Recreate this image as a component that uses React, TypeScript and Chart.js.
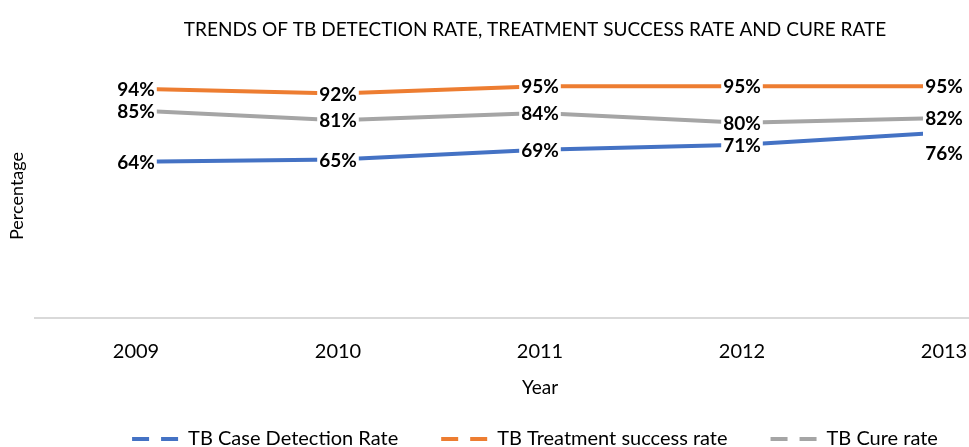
import React, { useEffect, useRef } from 'react';
import { Chart, registerables } from 'chart.js';

Chart.register(...registerables);

const years = ['2009', '2010', '2011', '2012', '2013'];
const detectionRate = [64, 65, 69, 71, 76];
const successRate = [94, 92, 95, 95, 95];
const cureRate = [85, 81, 84, 80, 82];
const seriesNames = ['TB Case Detection Rate', 'TB Treatment success rate', 'TB Cure rate'];
const seriesColors = ['#4472C4', '#ED7D31', '#A5A5A5'];
const titleText = 'TRENDS OF TB DETECTION RATE, TREATMENT SUCCESS RATE AND CURE RATE';
const xTitle = 'Year';
const yTitle = 'Percentage';

const FONT = 'Lato, "Open Sans", sans-serif';
const W = 1060;
const H = 447;

const labelPlugin = {
  id: 'pctLabels',
  afterDatasetsDraw(chart: any) {
    const ctx = chart.ctx;
    ctx.save();
    ctx.font = `bold 19px ${FONT}`;
    ctx.textAlign = 'center';
    ctx.textBaseline = 'middle';
    const n = chart.data.labels.length;
    const h = 20;
    for (let i = 0; i < n; i++) {
      const items: any[] = [];
      chart.data.datasets.forEach((ds: any, di: number) => {
        const el = chart.getDatasetMeta(di).data[i];
        items.push({ x: el.x, y: el.y, text: ds.data[i] + '%' });
      });
      items.sort((a, b) => a.y - b.y);
      const placed: number[] = [];
      items.forEach((it) => {
        const w = ctx.measureText(it.text).width + 4;
        let cy = it.y;
        if (placed.some((p) => Math.abs(p - cy) < 18)) cy = it.y + h;
        placed.push(cy);
        ctx.fillStyle = '#ffffff';
        ctx.fillRect(it.x - w / 2, cy - h / 2, w, h);
        ctx.fillStyle = '#000000';
        ctx.fillText(it.text, it.x, cy + 1);
      });
    }
    ctx.restore();
  },
};

export default function App() {
  const ref = useRef<HTMLCanvasElement>(null);
  useEffect(() => {
    document.body.style.overflow = 'hidden';
    document.documentElement.style.overflow = 'hidden';
    const series = [detectionRate, successRate, cureRate];
    const chart = new Chart(ref.current as HTMLCanvasElement, {
      type: 'line',
      data: {
        labels: years,
        datasets: series.map((d, i) => ({
          label: seriesNames[i],
          data: d,
          borderColor: seriesColors[i],
          backgroundColor: seriesColors[i],
          borderWidth: 4,
          pointRadius: 0,
          pointHoverRadius: 0,
          tension: 0,
          fill: false,
          clip: { left: false, top: false, bottom: false, right: -122 },
        })),
      },
      options: {
        responsive: false,
        animation: false,
        events: [],
        layout: { padding: { left: 25, right: W - 1045, top: 0, bottom: -12 } },
        plugins: {
          title: {
            display: true,
            text: titleText,
            color: '#000000',
            font: { family: FONT, size: 19, weight: 'normal' },
            padding: { top: 18.6, bottom: 32.6 },
          },
          legend: {
            position: 'bottom',
            labels: {
              usePointStyle: true,
              pointStyleWidth: 46,
              padding: 43,
              color: '#000000',
              font: { family: FONT, size: 20 },
              generateLabels: (c: any) =>
                c.data.datasets.map((ds: any, i: number) => ({
                  text: ds.label,
                  fillStyle: ds.borderColor,
                  strokeStyle: ds.borderColor,
                  lineWidth: 4,
                  lineDash: [17, 12],
                  lineCap: 'butt',
                  pointStyle: 'line',
                  hidden: false,
                  datasetIndex: i,
                  fontColor: '#000000',
                })),
            },
          },
          tooltip: { enabled: false },
        },
        scales: {
          x: {
            offset: true,
            grid: { display: false, drawTicks: false },
            border: { display: true, color: '#D9D9D9', width: 2 },
            ticks: { color: '#000000', font: { family: FONT, size: 20 }, padding: 22 },
            title: {
              display: true,
              text: xTitle,
              color: '#000000',
              font: { family: FONT, size: 19 },
              padding: { top: -9.4, bottom: -13.4 },
            },
          },
          y: {
            min: 0,
            max: 100,
            grid: { display: false, drawTicks: false },
            border: { display: false },
            ticks: { display: false },
            title: {
              display: true,
              text: yTitle,
              color: '#000000',
              font: { family: FONT, size: 18 },
              padding: { top: -18.8, bottom: 0 },
            },
            afterFit: (s: any) => {
              s.width = 10;
            },
          },
        },
      },
      plugins: [labelPlugin],
    } as any);
    return () => chart.destroy();
  }, []);
  return (
    <div style={{ position: 'fixed', left: 0, top: 0, width: W, height: H, background: '#ffffff' }}>
      <canvas ref={ref} width={W} height={H} style={{ display: 'block', width: W, height: H }} />
    </div>
  );
}
